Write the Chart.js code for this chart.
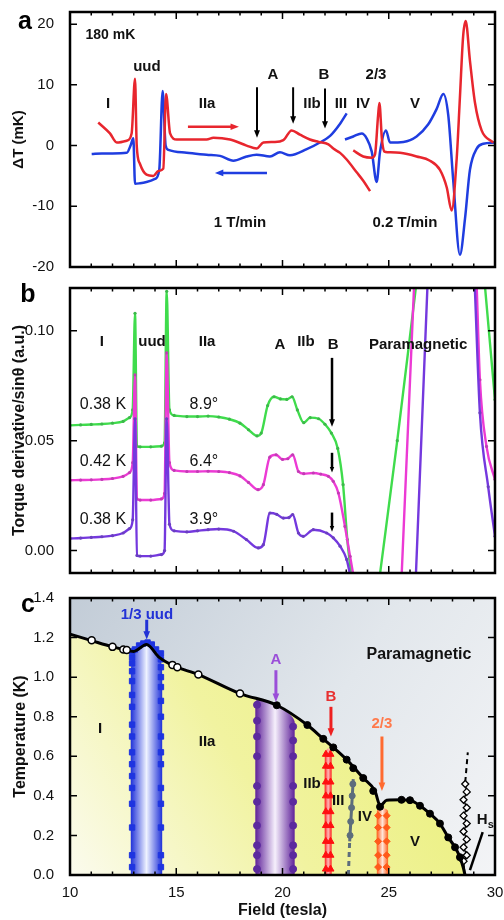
<!DOCTYPE html>
<html>
<head>
<meta charset="utf-8">
<title>Field sweeps and phase diagram</title>
<script src="https://cdn.jsdelivr.net/npm/chart.js@4.4.1/dist/chart.umd.min.js"></script>
<style>
  html, body { margin: 0; padding: 0; background: #fff; }
  body { width: 504px; height: 920px; position: relative; overflow: hidden; }
  canvas { position: absolute; left: 0; }
</style>
</head>
<body>
<canvas id="chartA" width="504" height="280" style="top:0"></canvas>
<canvas id="chartB" width="504" height="300" style="top:280px"></canvas>
<canvas id="chartC" width="504" height="340" style="top:580px"></canvas>
<script>
// ─── Panel a: ΔT (mK) vs field, red = up sweep, blue = down sweep ───
const fastUpField  = [11.33, 11.88, 12.2, 12.67, 12.9, 13.06, 13.14, 13.29, 13.6, 13.92, 14.16, 14.39, 14.52, 14.71, 15.02, 15.7, 16.43, 16.75, 17.53, 18.31, 18.78, 19.1, 19.6, 20.04, 20.43, 20.82, 21.29, 21.7, 22.16, 22.39, 22.71, 23.02, 23.49, 23.8, 24.12];
const fastUpDT     = [3.8, 2.0, 0.5, 0.8, 2.0, 11.0, 0.0, -3.0, -4.8, -5.0, -4.2, -3.8, 8.5, 2.0, 1.0, 1.0, 1.0, 1.3, 1.0, 0.0, -0.5, 0.5, 0.6, 0.9, 2.5, 1.8, 1.0, 0.6, 0.2, -0.5, -1.2, -2.3, -4.4, -5.8, -7.5];
const fastDownField = [11.02, 11.5, 12.0, 12.67, 12.85, 12.98, 13.06, 13.3, 13.6, 14.0, 14.2, 14.36, 14.5, 14.63, 15.49, 16.43, 17.06, 17.69, 18.31, 18.78, 19.41, 19.88, 20.35, 21.14, 21.76, 22.24, 22.71, 23.02];
const fastDownDT    = [-1.4, -1.3, -1.3, -1.2, 0.0, 1.2, -6.3, -6.2, -6.0, -5.5, -4.0, 9.0, 0.0, -0.7, -1.2, -1.5, -1.7, -2.5, -1.8, -1.5, -1.8, -1.1, -1.6, -0.6, 0.5, 1.6, 3.6, 5.3];
const slowUpField  = [23.33, 23.8, 24.2, 24.35, 24.5, 24.56, 24.68, 24.8, 24.95, 25.53, 26.31, 26.94, 27.41, 27.73, 27.96, 28.2, 28.35, 28.5, 28.62, 28.82, 29.06, 29.37, 29.92];
const slowUpDT     = [-0.8, -1.8, -2.0, -1.5, 5.0, 7.0, 1.0, -1.0, -1.1, -1.2, -1.8, -2.5, -4.0, -6.9, -10.7, -2.0, 8.0, 18.0, 20.5, 14.0, 7.0, 2.5, 0.5];
const slowDownField = [22.94, 23.33, 23.73, 23.96, 24.2, 24.43, 24.59, 24.87, 25.06, 25.69, 26.31, 26.86, 27.25, 27.57, 27.8, 28.04, 28.35, 28.59, 28.82, 29.14, 29.45, 30.0];
const slowDownDT    = [1.0, 1.5, 2.0, 1.2, -1.0, -6.0, -1.0, 2.5, 0.5, 0.6, 1.5, 3.5, 6.0, 8.5, 5.0, -6.0, -18.0, -12.0, -4.0, -0.5, 0.3, 0.5];
const aTicks = [-20, -10, 0, 10, 20];

// ─── Panel b: torque derivative / sinθ, three tilt angles (null = off-scale gap) ───
const greenField  = [10.0, 10.5, 11.0, 11.5, 12.0, 12.5, 12.8, 12.95, 13.06, 13.15, 13.3, 13.8, 14.3, 14.45, 14.55, 14.68, 14.9, 15.5, 16.0, 16.5, 17.0, 17.5, 18.0, 18.4, 18.8, 19.0, 19.3, 19.6, 19.9, 20.2, 20.45, 20.7, 21.0, 21.3, 21.7, 22.0, 22.3, 22.6, 22.85, 23.05, 23.25, 24.0, 24.59, 25.4, 26.28, 28.0, 29.53, 30.0];
const greenTorque = [0.0570, 0.0572, 0.0574, 0.0576, 0.0580, 0.0588, 0.0605, 0.0640, 0.108, 0.0475, 0.0472, 0.0472, 0.0475, 0.0490, 0.118, 0.0640, 0.0615, 0.0610, 0.0610, 0.0612, 0.0608, 0.0598, 0.0580, 0.0550, 0.0522, 0.0535, 0.0660, 0.0700, 0.0690, 0.0688, 0.0700, 0.0640, 0.0582, 0.0605, 0.0600, 0.0575, 0.0535, 0.0465, 0.0300, 0.0050, -0.0120, null, -0.0105, 0.0500, 0.1200, null, 0.1200, 0.0686];
const magentaField  = [10.0, 10.5, 11.0, 11.5, 12.0, 12.5, 12.8, 12.95, 13.06, 13.15, 13.3, 13.8, 14.3, 14.45, 14.55, 14.68, 14.9, 15.5, 16.0, 16.5, 17.0, 17.5, 18.0, 18.4, 18.85, 19.1, 19.4, 19.7, 20.0, 20.25, 20.48, 20.75, 21.0, 21.45, 21.8, 22.16, 22.39, 22.63, 22.94, 23.18, 23.35, 24.5, 25.61, 26.19, 28.0, 29.14, 29.29, 29.6, 30.0];
const magentaTorque = [0.0320, 0.0321, 0.0322, 0.0324, 0.0328, 0.0338, 0.0355, 0.0400, 0.0800, 0.0235, 0.0230, 0.0230, 0.0235, 0.0260, 0.0900, 0.0400, 0.0365, 0.0360, 0.0360, 0.0361, 0.0360, 0.0355, 0.0340, 0.0310, 0.0277, 0.0300, 0.0425, 0.0436, 0.0415, 0.0418, 0.0436, 0.0360, 0.0350, 0.0353, 0.0348, 0.0338, 0.0315, 0.0262, 0.0110, -0.0026, -0.0120, null, -0.0105, 0.1200, null, 0.1200, 0.0777, 0.0474, 0.0323];
const purpleField  = [10.0, 10.5, 11.0, 11.5, 12.0, 12.5, 12.8, 12.95, 13.06, 13.15, 13.3, 13.8, 14.3, 14.45, 14.55, 14.68, 14.9, 15.5, 16.0, 16.5, 17.0, 17.7, 18.3, 18.86, 19.1, 19.41, 19.73, 20.04, 20.3, 20.48, 20.75, 20.98, 21.45, 22.08, 22.39, 22.71, 23.02, 23.18, 25.0, 26.28, 26.82, 28.0, 29.05, 29.29, 29.68, 30.0];
const purpleTorque = [0.0055, 0.0057, 0.0060, 0.0063, 0.0068, 0.0080, 0.0100, 0.0140, 0.0600, -0.0022, -0.0025, -0.0025, -0.0018, 0.0000, 0.0600, 0.0120, 0.0090, 0.0085, 0.0090, 0.0095, 0.0098, 0.0088, 0.0050, 0.0012, 0.0027, 0.0171, 0.0165, 0.0148, 0.0150, 0.0164, 0.0080, 0.0065, 0.0095, 0.0080, 0.0058, 0.0020, -0.0040, -0.0110, null, -0.0105, 0.1200, null, 0.1200, 0.0627, 0.0290, 0.0065];
const bTicks = [0, 0.05, 0.10];

// ─── Panel c: phase diagram, temperature (K) vs field ───
const boundaryField = [10.0, 10.94, 12.0, 12.5, 13.0, 13.6, 14.2, 14.86, 16.04, 18.0, 19.73, 21.17, 21.92, 22.39, 23.02, 23.8, 24.35, 24.6, 24.9, 25.6, 26.0, 26.47, 26.94, 27.41, 27.8, 28.12, 28.35, 28.5, 28.59];
const boundaryTemp  = [1.217, 1.187, 1.153, 1.14, 1.13, 1.165, 1.10, 1.058, 1.013, 0.917, 0.858, 0.758, 0.688, 0.645, 0.583, 0.49, 0.425, 0.35, 0.378, 0.38, 0.378, 0.35, 0.31, 0.26, 0.19, 0.14, 0.09, 0.04, 0.0];
const openField  = [11.02, 12.0, 12.51, 12.67, 14.82, 15.05, 16.04, 18.0];
const openTemp   = [1.187, 1.153, 1.14, 1.137, 1.062, 1.05, 1.013, 0.917];
const filledField = [19.73, 21.17, 21.92, 22.39, 23.02, 23.33, 23.8, 24.27, 24.59, 25.6, 26.0, 26.47, 26.94, 27.41, 27.8, 28.12, 28.35];
const filledTemp  = [0.858, 0.758, 0.688, 0.645, 0.583, 0.54, 0.49, 0.425, 0.345, 0.38, 0.378, 0.35, 0.31, 0.26, 0.19, 0.14, 0.09];
const uudOutlineField = [12.85, 12.85, 12.95, 13.2, 13.6, 14.0, 14.25, 14.35, 14.35];
const uudOutlineTemp  = [0, 1.0, 1.1, 1.155, 1.175, 1.155, 1.1, 1.0, 0];
const uudEdgeField = [12.92, 14.28];
const uudLeftTemp  = [0.04, 0.1, 0.24, 0.36, 0.44, 0.5, 0.56, 0.62, 0.7, 0.76, 0.85, 0.91, 0.98, 1.03, 1.07, 1.1, 1.13];
const uudRightTemp = [0.04, 0.1, 0.24, 0.36, 0.44, 0.56, 0.62, 0.7, 0.8, 0.88, 0.95, 1.0, 1.05, 1.09, 1.12];
const uudTopField = [13.05, 13.25, 13.45, 13.65, 13.85, 14.05];
const uudTopTemp  = [1.14, 1.16, 1.17, 1.175, 1.165, 1.14];
const aOutlineField = [18.72, 18.72, 20.58, 20.58];
const aOutlineTemp  = [0, 0.875, 0.775, 0];
const aEdgeField = [18.8, 20.5];
const aLeftTemp  = [0.03, 0.1, 0.15, 0.25, 0.37, 0.45, 0.6, 0.7, 0.78, 0.86];
const aRightTemp = [0.03, 0.1, 0.15, 0.25, 0.37, 0.45, 0.6, 0.68, 0.75];
const bOutlineField = [21.98, 21.98, 22.15, 22.32, 22.32];
const bOutlineTemp  = [0, 0.6, 0.64, 0.6, 0];
const bEdgeField = [22.04, 22.26];
const bMarkTemp  = [0.03, 0.1, 0.17, 0.25, 0.32, 0.4, 0.47, 0.55, 0.61];
const thirdField = [23.1, 23.16, 23.33];
const thirdTemp  = [0, 0.17, 0.485];
const thirdMarkField = [23.18, 23.21, 23.25, 23.28, 23.31];
const thirdMarkTemp  = [0.2, 0.27, 0.34, 0.4, 0.46];
const twoThirdsOutlineField = [24.43, 24.43, 24.7, 24.98, 24.98];
const twoThirdsOutlineTemp  = [0, 0.32, 0.34, 0.32, 0];
const twoThirdsEdgeField = [24.5, 24.9];
const twoThirdsMarkTemp  = [0.04, 0.1, 0.17, 0.24, 0.3];
const hsField = [28.59, 28.52, 28.67, 28.52, 28.67, 28.52, 28.67, 28.52, 28.67, 28.52, 28.67, 28.6];
const hsTemp  = [0.0, 0.07, 0.1, 0.14, 0.18, 0.22, 0.26, 0.3, 0.34, 0.38, 0.42, 0.46];
const hsDashField = [28.6, 28.72];
const hsDashTemp  = [0.47, 0.62];
const hsPointerField = [28.82, 29.42];
const hsPointerTemp  = [0.025, 0.217];
const cTicks = [0, 0.2, 0.4, 0.6, 0.8, 1.0, 1.2, 1.4];
const fieldTicks = [10, 15, 20, 25, 30];

const FONT = "'Liberation Sans', Arial, Helvetica, sans-serif";
const RED = '#e8262e', BLUE = '#1f3de0';
const GREEN = '#3fdc4c', MAGENTA = '#ec3ad4', PURPLE = '#7438de';

const pts = (xs, ys) => xs.map((x, i) => ({ x, y: ys[i] }));
const atX = (x, ys) => ys.map(y => ({ x, y }));

function drawArrow(ctx, x0, y0, x1, y1, color, w, head) {
    const ang = Math.atan2(y1 - y0, x1 - x0);
    ctx.strokeStyle = color;
    ctx.fillStyle = color;
    ctx.lineWidth = w;
    ctx.beginPath();
    ctx.moveTo(x0, y0);
    ctx.lineTo(x1 - Math.cos(ang) * head * 0.8, y1 - Math.sin(ang) * head * 0.8);
    ctx.stroke();
    ctx.beginPath();
    ctx.moveTo(x1, y1);
    ctx.lineTo(x1 - head * Math.cos(ang - 0.38), y1 - head * Math.sin(ang - 0.38));
    ctx.lineTo(x1 - head * Math.cos(ang + 0.38), y1 - head * Math.sin(ang + 0.38));
    ctx.closePath();
    ctx.fill();
}

// ─── Frame, inward ticks, notes, arrows ───
const frame = {
    id: 'frame',
    beforeDraw(chart, args, o) {
        if (!o.bg) return;
        const { ctx, chartArea: a } = chart;
        const g = ctx.createLinearGradient(a.left, a.top, a.right, a.bottom);
        g.addColorStop(0, '#c2ccd7');
        g.addColorStop(0.55, '#e2e7ec');
        g.addColorStop(1, '#f3f4f6');
        ctx.save();
        ctx.fillStyle = g;
        ctx.fillRect(a.left, a.top, a.width, a.height);
        ctx.restore();
    },
    afterDatasetsDraw(chart) {
        const { ctx, chartArea: a, scales: { x, y } } = chart;
        ctx.save();
        ctx.strokeStyle = '#000';
        ctx.lineWidth = 1.5;
        ctx.beginPath();
        for (let v = 10; v <= 30; v++) {
            const px = x.getPixelForValue(v), len = v % 5 ? 3.5 : 7;
            ctx.moveTo(px, a.bottom); ctx.lineTo(px, a.bottom - len);
            ctx.moveTo(px, a.top); ctx.lineTo(px, a.top + len);
        }
        y.ticks.forEach(t => {
            const py = y.getPixelForValue(t.value);
            ctx.moveTo(a.left, py); ctx.lineTo(a.left + 7, py);
            ctx.moveTo(a.right, py); ctx.lineTo(a.right - 7, py);
        });
        ctx.stroke();
        ctx.lineWidth = 2.5;
        ctx.strokeRect(a.left, a.top, a.width, a.height);
        ctx.restore();
    },
    afterDraw(chart, args, o) {
        const { ctx, scales: { x, y } } = chart;
        ctx.save();
        (o.arrows || []).forEach(r => drawArrow(ctx,
            x.getPixelForValue(r[0]), y.getPixelForValue(r[1]),
            x.getPixelForValue(r[2]), y.getPixelForValue(r[3]), r[4], r[5], r[6]));
        ctx.textAlign = 'center';
        ctx.textBaseline = 'middle';
        (o.notes || []).forEach(n => {
            ctx.font = n[4] || 'bold 15px ' + FONT;
            ctx.fillStyle = n[3] || '#111';
            const px = x.getPixelForValue(n[1]), py = y.getPixelForValue(n[2]);
            ctx.fillText(n[0], px, py);
            if (n[5]) {
                const w = ctx.measureText(n[0]).width;
                ctx.font = 'bold 11px ' + FONT;
                ctx.textAlign = 'left';
                ctx.fillText(n[5], px + w / 2, py + 5);
                ctx.textAlign = 'center';
            }
        });
        if (o.letter) {
            ctx.font = 'bold 25px ' + FONT;
            ctx.fillStyle = '#000';
            ctx.fillText(o.letter[0], o.letter[1], o.letter[2]);
        }
        ctx.restore();
    }
};

// keep the plot box where the layout padding puts it: no label overflow padding
function noOverflow(s) {
    s.paddingTop = 0; s.paddingBottom = 0; s.paddingLeft = 0; s.paddingRight = 0;
}
function tickList(list) { return s => { s.ticks = list.map(v => ({ value: v })); }; }

function baseOptions(pad, yMin, yMax, ticks, fmt, title, titlePad, showX) {
    return {
        responsive: false,
        animation: false,
        events: [],
        layout: { padding: pad },
        elements: { point: { radius: 0 } },
        plugins: { legend: { display: false }, tooltip: { enabled: false } },
        scales: {
            x: showX ? {
                type: 'linear', min: 10, max: 30,
                afterBuildTicks: tickList(fieldTicks),
                grid: { display: false }, border: { display: false },
                ticks: { color: '#111', font: { family: FONT, size: 15 }, padding: 1, maxRotation: 0 },
                title: { display: true, text: 'Field (tesla)', color: '#111', font: { family: FONT, size: 16, weight: 'bold' }, padding: { top: 0, bottom: 0 } },
                afterFit: s => { s.height = 45; noOverflow(s); }
            } : {
                type: 'linear', min: 10, max: 30,
                ticks: { display: false }, grid: { display: false }, border: { display: false },
                afterFit: s => { s.height = 0; noOverflow(s); }
            },
            y: {
                type: 'linear', min: yMin, max: yMax,
                afterBuildTicks: tickList(ticks),
                afterFit: s => { s.width = 70; noOverflow(s); },
                grid: { display: false }, border: { display: false },
                ticks: { color: '#111', font: { family: FONT, size: 15 }, padding: 8, callback: fmt },
                title: { display: true, text: title, color: '#111', font: { family: FONT, size: titlePad[1], weight: 'bold' }, padding: { top: titlePad[0], bottom: 0 } }
            }
        }
    };
}

// ─── Panel a ───
const lineA = (data, color) => ({ data, borderColor: color, borderWidth: 2.5, cubicInterpolationMode: 'monotone', pointRadius: 0 });
const optA = baseOptions({ top: 12, right: 9, bottom: 13, left: 0 }, -20, 22, aTicks, v => String(v), 'ΔT (mK)', [10, 15], false);
optA.plugins.frame = {
    letter: ['a', 25, 22],
    notes: [
        ['180 mK', 11.9, 18.2, '#111', 'bold 14px ' + FONT],
        ['uud', 13.62, 12.9], ['I', 11.79, 6.8], ['IIa', 16.45, 6.8],
        ['A', 19.55, 11.6], ['B', 21.95, 11.6], ['2/3', 24.4, 11.6],
        ['IIb', 21.39, 6.8], ['III', 22.75, 6.8], ['IV', 23.79, 6.8], ['V', 26.24, 6.8],
        ['1 T/min', 18.0, -12.7], ['0.2 T/min', 25.76, -12.7]
    ],
    arrows: [
        [15.55, 3.1, 17.95, 3.1, RED, 2.5, 9],
        [19.27, -4.5, 16.82, -4.5, BLUE, 2.5, 9],
        [18.8, 9.6, 18.8, 1.3, '#000', 2, 8],
        [20.5, 9.6, 20.5, 3.6, '#000', 2, 8],
        [22.0, 9.4, 22.0, 2.8, '#000', 2, 8]
    ]
};
new Chart(document.getElementById('chartA'), {
    type: 'line',
    data: { datasets: [
        lineA(pts(fastUpField, fastUpDT), RED),
        lineA(pts(fastDownField, fastDownDT), BLUE),
        lineA(pts(slowUpField, slowUpDT), RED),
        lineA(pts(slowDownField, slowDownDT), BLUE)
    ] },
    options: optA,
    plugins: [frame]
});

// ─── Panel b ───
const lineB = (data, color, dot) => ({
    data, borderColor: color, borderWidth: 2.4, cubicInterpolationMode: 'monotone',
    pointRadius: 1.6, pointBackgroundColor: dot, pointBorderColor: dot, pointBorderWidth: 0
});
const optB = baseOptions({ top: 8, right: 9, bottom: 7, left: 0 }, -0.0102, 0.1195, bTicks, v => v.toFixed(2), 'Torque derivative/sinθ (a.u.)', [10, 16], false);
const reg = '16px ' + FONT;
optB.plugins.frame = {
    letter: ['b', 28, 15],
    notes: [
        ['I', 11.5, 0.095], ['uud', 13.86, 0.095], ['IIa', 16.45, 0.095],
        ['A', 19.88, 0.0936], ['IIb', 21.1, 0.095], ['B', 22.38, 0.0936],
        ['Paramagnetic', 26.38, 0.0936],
        ['0.38 K', 11.55, 0.0664, '#111', reg], ['8.9°', 16.3, 0.0664, '#111', reg],
        ['0.42 K', 11.55, 0.0405, '#111', reg], ['6.4°', 16.3, 0.0405, '#111', reg],
        ['0.38 K', 11.55, 0.0141, '#111', reg], ['3.9°', 16.3, 0.0141, '#111', reg]
    ],
    arrows: [
        [22.33, 0.0877, 22.33, 0.0564, '#000', 2.5, 8],
        [22.33, 0.0445, 22.33, 0.0355, '#000', 2.5, 6],
        [22.33, 0.0173, 22.33, 0.0086, '#000', 2.5, 6]
    ]
};
new Chart(document.getElementById('chartB'), {
    type: 'line',
    data: { datasets: [
        lineB(pts(purpleField, purpleTorque), PURPLE, '#6a3fc0'),
        lineB(pts(magentaField, magentaTorque), MAGENTA, '#c23cb4'),
        lineB(pts(greenField, greenTorque), GREEN, '#3cb84a')
    ] },
    options: optB,
    plugins: [frame]
});

// ─── Panel c ───
function bandFill(fields, edge, mid) {
    const left = Math.min(...fields), right = Math.max(...fields);
    return c => {
        const chart = c.chart, xs = chart.scales.x;
        if (!chart.chartArea || !xs) return edge;
        const g = chart.ctx.createLinearGradient(xs.getPixelForValue(left), 0, xs.getPixelForValue(right), 0);
        g.addColorStop(0, edge);
        g.addColorStop(0.5, mid);
        g.addColorStop(1, edge);
        return g;
    };
}
function yellowFill(c) {
    const a = c.chart.chartArea;
    if (!a) return '#f0f2a0';
    const g = c.chart.ctx.createLinearGradient(a.left, a.bottom, a.right, a.top);
    g.addColorStop(0, '#fbfbee');
    g.addColorStop(0.4, '#f1f3a0');
    g.addColorStop(1, '#e8ee6c');
    return g;
}
const band = (fields, temps, edge, mid) => ({
    data: pts(fields, temps), borderWidth: 0, pointRadius: 0, tension: 0.3,
    fill: 'origin', backgroundColor: bandFill(fields, edge, mid), order: 10
});
const marks = (data, style, color, r) => ({
    data, showLine: false, pointStyle: style, pointRadius: r,
    pointBackgroundColor: color, pointBorderColor: color, pointBorderWidth: 1, order: 5
});
const optC = baseOptions({ top: 18, right: 9, bottom: 0, left: 0 }, 0, 1.4, cTicks, v => v.toFixed(1), 'Temperature (K)', [11, 16], true);
optC.plugins.frame = {
    bg: true,
    letter: ['c', 28, 25],
    notes: [
        ['1/3 uud', 13.62, 1.315, '#2232d6'],
        ['Paramagnetic', 26.42, 1.115, '#111', 'bold 16px ' + FONT],
        ['I', 11.41, 0.74], ['IIa', 16.45, 0.675], ['IIb', 21.39, 0.46],
        ['III', 22.62, 0.375], ['IV', 23.88, 0.295], ['V', 26.24, 0.17],
        ['H', 29.4, 0.28, '#111', 'bold 15px ' + FONT, 's'],
        ['A', 19.69, 1.085, '#9a4ed8'], ['B', 22.28, 0.9, '#e83030'], ['2/3', 24.68, 0.765, '#ff7a4c']
    ],
    arrows: [
        [13.61, 1.29, 13.61, 1.19, '#2232d6', 3, 9],
        [19.69, 1.035, 19.69, 0.875, '#9a4ed8', 3, 9],
        [22.28, 0.85, 22.28, 0.70, '#ee2020', 3, 9],
        [24.68, 0.70, 24.68, 0.425, '#ff6a30', 3, 9]
    ]
};
new Chart(document.getElementById('chartC'), {
    type: 'line',
    data: { datasets: [
        { data: pts(boundaryField, boundaryTemp), borderWidth: 0, pointRadius: 0, cubicInterpolationMode: 'monotone',
          fill: 'origin', backgroundColor: yellowFill, order: 20 },
        band(uudOutlineField, uudOutlineTemp, '#1d2fd8', '#eef2ff'),
        band(aOutlineField, aOutlineTemp, '#5e2099', '#f6f0fc'),
        band(bOutlineField, bOutlineTemp, '#ff1414', '#ffb8b8'),
        band(twoThirdsOutlineField, twoThirdsOutlineTemp, '#ff5a14', '#ffe6da'),
        marks(atX(uudEdgeField[0], uudLeftTemp), 'rect', '#1e34e0', 3.8),
        marks(atX(uudEdgeField[1], uudRightTemp), 'rect', '#1e34e0', 3.8),
        marks(pts(uudTopField, uudTopTemp), 'rect', '#1e34e0', 3.8),
        marks(atX(aEdgeField[0], aLeftTemp), 'circle', '#5c2a9e', 3.5),
        marks(atX(aEdgeField[1], aRightTemp), 'circle', '#5c2a9e', 3.5),
        marks(atX(bEdgeField[0], bMarkTemp), 'triangle', '#ff1010', 4),
        marks(atX(bEdgeField[1], bMarkTemp), 'triangle', '#ff1010', 4),
        marks(atX(twoThirdsEdgeField[0], twoThirdsMarkTemp), 'rectRot', '#ff5a1a', 3.5),
        marks(atX(twoThirdsEdgeField[1], twoThirdsMarkTemp), 'rectRot', '#ff5a1a', 3.5),
        { data: pts(thirdField, thirdTemp), borderColor: '#5d6d7c', borderWidth: 3, pointRadius: 0, order: 5,
          segment: { borderDash: s => s.p0DataIndex === 0 ? [5, 4] : undefined } },
        marks(pts(thirdMarkField, thirdMarkTemp), 'circle', '#5d6d7c', 3),
        { data: pts(hsField, hsTemp), borderColor: '#000', borderWidth: 1.5, order: 5,
          pointStyle: 'rectRot', pointRadius: c => c.dataIndex === 0 ? 0 : 3.5,
          pointBackgroundColor: '#fff', pointBorderColor: '#000', pointBorderWidth: 1.3 },
        { data: pts(hsDashField, hsDashTemp), borderColor: '#000', borderWidth: 2, borderDash: [5, 4], pointRadius: 0, order: 5 },
        { data: pts(hsPointerField, hsPointerTemp), borderColor: '#000', borderWidth: 2.5, pointRadius: 0, order: 5 },
        { data: pts(boundaryField, boundaryTemp), borderColor: '#000', borderWidth: 3, pointRadius: 0,
          cubicInterpolationMode: 'monotone', order: 2 },
        marks(pts(openField, openTemp), 'circle', '#fff', 3.5),
        marks(pts(filledField, filledTemp), 'circle', '#000', 3.5)
    ].map((d, i, all) => {
        if (i === all.length - 2) { d.pointBorderColor = '#000'; d.pointBorderWidth = 1.5; d.order = 1; }
        if (i === all.length - 1) { d.order = 1; }
        return d;
    }) },
    options: optC,
    plugins: [frame]
});
</script>
</body>
</html>
